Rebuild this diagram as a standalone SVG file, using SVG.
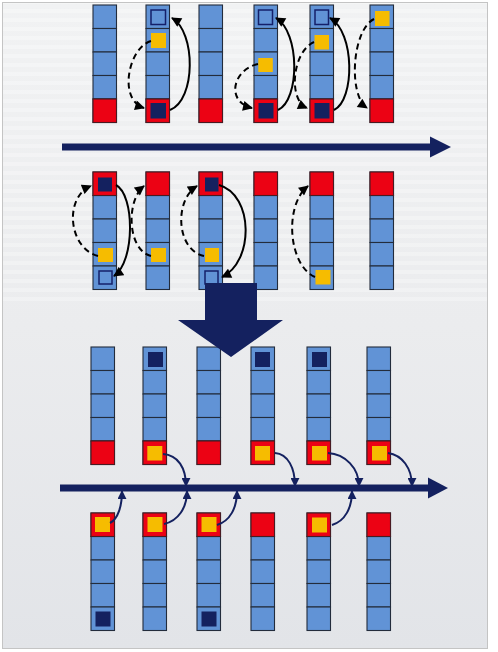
<svg xmlns="http://www.w3.org/2000/svg" xmlns:xlink="http://www.w3.org/1999/xlink" width="498" height="652" viewBox="0 0 498 652">
<style>
.c{fill:#6193d6;stroke:#232c3c;stroke-width:1.1}
.r{fill:#ec0214;stroke:#4a1a22;stroke-width:1.1}
.y{fill:#f6bc00}
.n{fill:#14215f}
.h{fill:none;stroke:#14206a;stroke-width:1.5}
.k{fill:none;stroke:#000;stroke-width:2;marker-end:url(#ak)}
.d{fill:none;stroke:#000;stroke-width:2;stroke-dasharray:6 4;marker-end:url(#ak)}
.v{fill:none;stroke:#14215f;stroke-width:2;marker-end:url(#an)}
.bar{stroke:#14215f;stroke-width:7;fill:none}
.big{fill:#14215f}
</style>
<defs>
<linearGradient id="bg" x1="0" y1="0" x2="0" y2="1">
<stop offset="0" stop-color="#f1f2f3"/>
<stop offset="0.5" stop-color="#ebecee"/>
<stop offset="1" stop-color="#e2e4e8"/>
</linearGradient>
<pattern id="st" width="8" height="9" patternUnits="userSpaceOnUse">
<rect width="8" height="4" fill="#ffffff" opacity="0.45"/>
</pattern>
<marker id="ak" viewBox="0 0 10 10" refX="9" refY="5" markerWidth="11" markerHeight="10" orient="auto" markerUnits="userSpaceOnUse">
<path d="M0,0 L10,5 L0,10 z" fill="#000"/>
</marker>
<marker id="an" viewBox="0 0 10 10" refX="9" refY="5" markerWidth="9" markerHeight="9" orient="auto" markerUnits="userSpaceOnUse">
<path d="M0,0 L10,5 L0,10 z" fill="#14215f"/>
</marker>
<g id="col">
<rect class="c" x="0" y="0" width="23.5" height="23.5"/>
<rect class="c" x="0" y="23.5" width="23.5" height="23.5"/>
<rect class="c" x="0" y="47" width="23.5" height="23.5"/>
<rect class="c" x="0" y="70.5" width="23.5" height="23.5"/>
<rect class="c" x="0" y="94" width="23.5" height="23.5"/>
</g>
</defs>
<rect x="0" y="0" width="498" height="652" fill="#ffffff"/>
<rect x="2.5" y="2.5" width="485" height="646" fill="url(#bg)" stroke="#c4c4c4" stroke-width="1"/>
<rect x="3" y="3" width="484" height="300" fill="url(#st)" opacity="0.6"/>

<!-- Row 1 -->
<g id="r1c1" transform="translate(93,5)"><use xlink:href="#col"/><rect class="r" x="0" y="94" width="23.5" height="23.5"/></g>
<g id="r1c2" transform="translate(146,5)"><use xlink:href="#col"/><rect class="h" x="5" y="5" width="14.5" height="14.5"/><rect class="y" x="5" y="28" width="15" height="15"/><rect class="r" x="0" y="94" width="23.5" height="23.5"/><rect class="n" x="4.5" y="98" width="15.5" height="15.5"/></g>
<g id="r1c3" transform="translate(199,5)"><use xlink:href="#col"/><rect class="r" x="0" y="94" width="23.5" height="23.5"/></g>
<g id="r1c4" transform="translate(254,5)"><use xlink:href="#col"/><rect class="h" x="4.5" y="5" width="14" height="14.5"/><rect class="y" x="4.3" y="53" width="14.5" height="14"/><rect class="r" x="0" y="94" width="23.5" height="23.5"/><rect class="n" x="4.5" y="98" width="15" height="15.5"/></g>
<g id="r1c5" transform="translate(310,5)"><use xlink:href="#col"/><rect class="h" x="5" y="5" width="13.5" height="14.5"/><rect class="y" x="4.5" y="30" width="14.5" height="14.5"/><rect class="r" x="0" y="94" width="23.5" height="23.5"/><rect class="n" x="4.5" y="98" width="15" height="15.5"/></g>
<g id="r1c6" transform="translate(370,5)"><use xlink:href="#col"/><rect class="y" x="5" y="6" width="14.5" height="15"/><rect class="r" x="0" y="94" width="23.5" height="23.5"/></g>

<!-- Row 2 -->
<g id="r2c1" transform="translate(93,172)"><use xlink:href="#col"/><rect class="r" x="0" y="0" width="23.5" height="23.5"/><rect class="n" x="5" y="5.5" width="14" height="14"/><rect class="y" x="5" y="76" width="15" height="14"/><rect class="h" x="6" y="99" width="13" height="13"/></g>
<g id="r2c2" transform="translate(146,172)"><use xlink:href="#col"/><rect class="r" x="0" y="0" width="23.5" height="23.5"/><rect class="y" x="5" y="76" width="15" height="14"/></g>
<g id="r2c3" transform="translate(199,172)"><use xlink:href="#col"/><rect class="r" x="0" y="0" width="23.5" height="23.5"/><rect class="n" x="6" y="5.5" width="13.5" height="14"/><rect class="y" x="6" y="76" width="14" height="14"/><rect class="h" x="6" y="99" width="13" height="13"/></g>
<g id="r2c4" transform="translate(254,172)"><use xlink:href="#col"/><rect class="r" x="0" y="0" width="23.5" height="23.5"/></g>
<g id="r2c5" transform="translate(310,172)"><use xlink:href="#col"/><rect class="r" x="0" y="0" width="23.5" height="23.5"/><rect class="y" x="5.5" y="98" width="15" height="14.5"/></g>
<g id="r2c6" transform="translate(370,172)"><use xlink:href="#col"/><rect class="r" x="0" y="0" width="23.5" height="23.5"/></g>

<!-- Row 3 -->
<g id="r3c1" transform="translate(91,347)"><use xlink:href="#col"/><rect class="r" x="0" y="94" width="23.5" height="23.5"/></g>
<g id="r3c2" transform="translate(143,347)"><use xlink:href="#col"/><rect class="n" x="5" y="5" width="15" height="15"/><rect class="r" x="0" y="94" width="23.5" height="23.5"/><rect class="y" x="4.3" y="99" width="15" height="14.5"/></g>
<g id="r3c3" transform="translate(197,347)"><use xlink:href="#col"/><rect class="r" x="0" y="94" width="23.5" height="23.5"/></g>
<g id="r3c4" transform="translate(251,347)"><use xlink:href="#col"/><rect class="n" x="4" y="5" width="15" height="15"/><rect class="r" x="0" y="94" width="23.5" height="23.5"/><rect class="y" x="4" y="99" width="15" height="14.5"/></g>
<g id="r3c5" transform="translate(307,347)"><use xlink:href="#col"/><rect class="n" x="5" y="5" width="15" height="15"/><rect class="r" x="0" y="94" width="23.5" height="23.5"/><rect class="y" x="5" y="99" width="15" height="14.5"/></g>
<g id="r3c6" transform="translate(367,347)"><use xlink:href="#col"/><rect class="r" x="0" y="94" width="23.5" height="23.5"/><rect class="y" x="5" y="99" width="15" height="14.5"/></g>

<!-- Row 4 -->
<g id="r4c1" transform="translate(91,513)"><use xlink:href="#col"/><rect class="r" x="0" y="0" width="23.5" height="23.5"/><rect class="y" x="4" y="4" width="15" height="15"/><rect class="n" x="4.5" y="98.5" width="15" height="15"/></g>
<g id="r4c2" transform="translate(143,513)"><use xlink:href="#col"/><rect class="r" x="0" y="0" width="23.5" height="23.5"/><rect class="y" x="4.5" y="4" width="15" height="15"/></g>
<g id="r4c3" transform="translate(197,513)"><use xlink:href="#col"/><rect class="r" x="0" y="0" width="23.5" height="23.5"/><rect class="y" x="4.5" y="4" width="15" height="15"/><rect class="n" x="4.5" y="98.5" width="15" height="15"/></g>
<g id="r4c4" transform="translate(251,513)"><use xlink:href="#col"/><rect class="r" x="0" y="0" width="23.5" height="23.5"/></g>
<g id="r4c5" transform="translate(307,513)"><use xlink:href="#col"/><rect class="r" x="0" y="0" width="23.5" height="23.5"/><rect class="y" x="5" y="4.5" width="15" height="15"/></g>
<g id="r4c6" transform="translate(367,513)"><use xlink:href="#col"/><rect class="r" x="0" y="0" width="23.5" height="23.5"/></g>

<g id="connectors">
<!-- row 1 -->
<path class="d" d="M151,41 C128,48 118,100 144,108"/>
<path class="k" d="M170,110 C196,100 196,32 172,18"/>
<path class="d" d="M258,64 C232,70 226,102 252,108"/>
<path class="k" d="M278,110 C300,100 300,32 276,18"/>
<path class="d" d="M314,42 C292,52 288,100 307,108"/>
<path class="k" d="M334,110 C355,100 355,32 330,18"/>
<path class="d" d="M374,19 C352,30 348,95 367,108"/>
<!-- row 2 -->
<path class="d" d="M98,256 C68,248 64,197 91,186"/>
<path class="k" d="M116,185 C135,195 135,262 114,276"/>
<path class="d" d="M151,256 C127,250 126,200 144,186"/>
<path class="d" d="M204,256 C176,250 174,200 197,186"/>
<path class="k" d="M219,185 C254,195 254,262 222,277"/>
<path class="d" d="M315,277 C288,265 284,205 308,186"/>
<!-- horizontal arrow 1 -->
<line class="bar" x1="62" y1="147" x2="432" y2="147"/>
<polygon class="big" points="430,136.5 451,147 430,157.5"/>
<!-- big down arrow -->
<polygon class="big" points="205,283 257,283 257,320 283,320 231,357 178,320 205,320"/>
<!-- horizontal arrow 2 -->
<line class="bar" x1="60" y1="488" x2="430" y2="488"/>
<polygon class="big" points="428,477.5 448,488 428,498.5"/>
<!-- row 3 down arrows -->
<path class="v" d="M163,454 C178,455 186,468 186,486"/>
<path class="v" d="M275,453 C288,454 295,468 295,486"/>
<path class="v" d="M328,453 C345,454 359,468 359,486"/>
<path class="v" d="M388,453 C402,455 412,468 412,486"/>
<!-- row 4 up arrows -->
<path class="v" d="M110,523 C118,519 122,506 122,491"/>
<path class="v" d="M164,524 C178,521 187,508 187,491"/>
<path class="v" d="M217,525 C230,521 237,508 237,491"/>
<path class="v" d="M332,525 C345,521 352,508 352,491"/>
</g>
</svg>
